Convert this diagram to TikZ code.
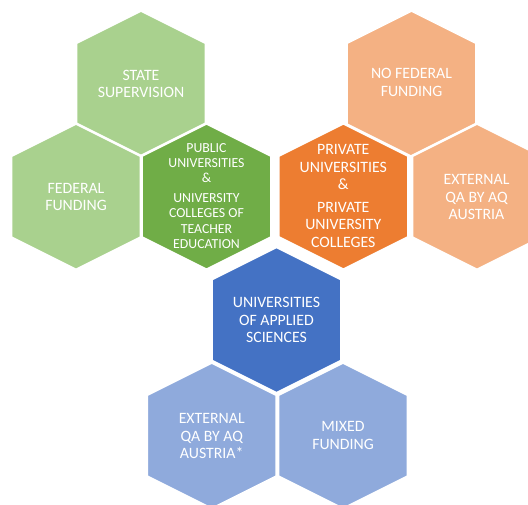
\documentclass[tikz,border=0pt]{standalone}
\usepackage{fontspec}
\setmainfont{Carlito}
\definecolor{greenlight}{HTML}{A9D18E}
\definecolor{greendark}{HTML}{70AD47}
\definecolor{orangelight}{HTML}{F4B183}
\definecolor{orangedark}{HTML}{ED7D31}
\definecolor{bluedark}{HTML}{4472C4}
\definecolor{bluelight}{HTML}{8FAADC}
\tikzset{
  hexfill/.style={fill=#1, draw=white, line width=2.6pt, line join=miter},
  hexlabel/.style={text=white, align=center, inner sep=0pt,
    font=\fontsize{15.8}{17.4}\selectfont},
  hexsmall/.style={hexlabel, font=\fontsize{13.8}{15.3}\selectfont},
}
% a flattened hexagon with pointed top, centred at (#1,#2)
\newcommand\hexcell[3]{%
  \filldraw[hexfill=#3] (#1,#2) ++(0,-73.2) -- ++(65,32.5) -- ++(0,81.4)
    -- ++(-65,32.5) -- ++(-65,-32.5) -- ++(0,-81.4) -- cycle;}
\begin{document}
\begin{tikzpicture}[x=1pt,y=-1pt]
  \useasboundingbox (0,0) rectangle (528,504);
  \clip (0,0) rectangle (528,504);
  % public sector cluster
  \hexcell{141}{83.7}{greenlight}
  \hexcell{76}{196.7}{greenlight}
  \hexcell{206.5}{196.5}{greendark}
  % private sector cluster
  \hexcell{411.5}{83.7}{orangelight}
  \hexcell{343.3}{196.5}{orangedark}
  \hexcell{477}{196.7}{orangelight}
  % universities of applied sciences cluster
  \hexcell{276.5}{320}{bluedark}
  \hexcell{211.7}{435.7}{bluelight}
  \hexcell{343}{435.7}{bluelight}

  \node[hexlabel] (state) at (141,84) {STATE\\SUPERVISION};
  \node[hexlabel] (fedfund) at (76,197) {FEDERAL\\FUNDING};
  \node[hexsmall] (public) at (206.5,196) {PUBLIC\\UNIVERSITIES\\\&\\[4.5pt]UNIVERSITY\\COLLEGES OF\\TEACHER\\EDUCATION};
  \node[hexlabel] (nofed) at (411.5,82.5) {NO FEDERAL\\FUNDING};
  \node[hexlabel] (private) at (343.3,196) {PRIVATE\\UNIVERSITIES\\\&\\[5.5pt]PRIVATE\\UNIVERSITY\\COLLEGES};
  \node[hexlabel] (extqa) at (476.5,197) {EXTERNAL\\QA BY AQ\\AUSTRIA};
  \node[hexlabel] (uas) at (276.5,320) {UNIVERSITIES\\OF APPLIED\\SCIENCES};
  \node[hexlabel] (extqauas) at (211.7,436) {EXTERNAL\\QA BY AQ\\AUSTRIA*};
  \node[hexlabel] (mixed) at (343,435.5) {MIXED\\FUNDING};
\end{tikzpicture}
\end{document}
